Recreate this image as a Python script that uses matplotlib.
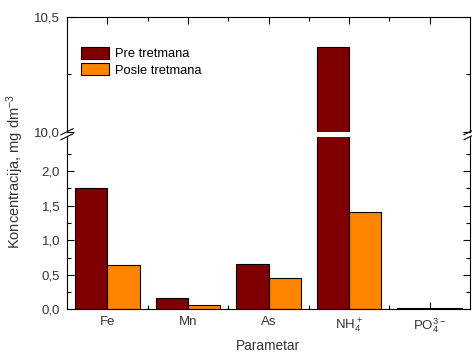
import matplotlib
matplotlib.use("Agg")
import matplotlib.pyplot as plt
import numpy as np
from matplotlib.ticker import MultipleLocator, FixedLocator, FuncFormatter
from matplotlib.lines import Line2D

categories = ["Fe", "Mn", "As", r"NH$_4^+$", r"PO$_4^{3-}$"]
pre = [1.75, 0.17, 0.65, 10.37, 0.012]
post = [0.64, 0.06, 0.45, 1.41, 0.012]
series_labels = ["Pre tretmana", "Posle tretmana"]
colors = ["#7F0000", "#FF8500"]

plt.rcParams["font.family"] = ["Liberation Sans", "DejaVu Sans"]
plt.rcParams["mathtext.default"] = "regular"

W, H = 472, 353
fig = plt.figure(figsize=(W / 100, H / 100), dpi=100)

def fx(px):
    return px / W

def fy(py):
    return 1 - py / H

left, right = 67, 470
ax_up = fig.add_axes([fx(left), fy(131.7), fx(right - left), fy(17) - fy(131.7)])
ax_lo = fig.add_axes([fx(left), fy(309.3), fx(right - left), fy(136.7) - fy(309.3)])

x = np.arange(len(categories))
w = 0.4
for ax in (ax_up, ax_lo):
    ax.bar(x - w / 2, pre, w, color=colors[0], edgecolor="black", linewidth=0.8, label=series_labels[0])
    ax.bar(x + w / 2, post, w, color=colors[1], edgecolor="black", linewidth=0.8, label=series_labels[1])
    ax.set_xlim(-0.5, len(categories) - 0.5)
    ax.xaxis.set_major_locator(FixedLocator(x))
    ax.xaxis.set_minor_locator(FixedLocator(x[:-1] + 0.5))
    for s in ax.spines.values():
        s.set_linewidth(0.8)
    ax.tick_params(which="both", direction="in", right=True, labelsize=9.5,
                   labelcolor="#333333", width=0.8)
    ax.tick_params(which="major", length=5, pad=5)
    ax.tick_params(which="minor", length=3)

fmt = FuncFormatter(lambda v, p: f"{v:.1f}".replace(".", ","))

ax_up.set_ylim(10.0, 10.5)
ax_up.yaxis.set_major_locator(MultipleLocator(0.5))
ax_up.yaxis.set_minor_locator(MultipleLocator(0.25))
ax_up.yaxis.set_major_formatter(fmt)
ax_up.spines["bottom"].set_visible(False)
ax_up.tick_params(axis="x", which="both", bottom=False, top=True, labelbottom=False)

ax_lo.set_ylim(0, 2.5)
ax_lo.yaxis.set_major_locator(FixedLocator([0, 0.5, 1.0, 1.5, 2.0]))
ax_lo.yaxis.set_minor_locator(FixedLocator([0.25, 0.75, 1.25, 1.75, 2.25]))
ax_lo.yaxis.set_major_formatter(fmt)
ax_lo.spines["top"].set_visible(False)
ax_lo.tick_params(axis="x", which="both", top=False, bottom=True)
ax_lo.set_xticklabels(categories)

# break marks
for xc in (left, right):
    for yc in (131.7, 136.7):
        fig.add_artist(Line2D([fx(xc - 6), fx(xc + 6)], [fy(yc + 3), fy(yc - 3)],
                              color="black", lw=0.8, transform=fig.transFigure, clip_on=False))

ax_up.legend(loc="upper left", bbox_to_anchor=(fx(81), fy(47)), bbox_transform=fig.transFigure,
             frameon=False, fontsize=9.3, handlelength=2.2, handleheight=1.0,
             labelspacing=0.25, handletextpad=0.4, borderpad=0, borderaxespad=0)

fig.text(fx(15), fy(172), r"Koncentracija, mg dm$^{-3}$", rotation=90,
         ha="center", va="center", fontsize=10.5, color="#333333")
fig.text(fx(268), fy(346), "Parametar", ha="center", va="center", fontsize=9.8, color="#333333")

fig.savefig("out.png", dpi=100, facecolor="white")
